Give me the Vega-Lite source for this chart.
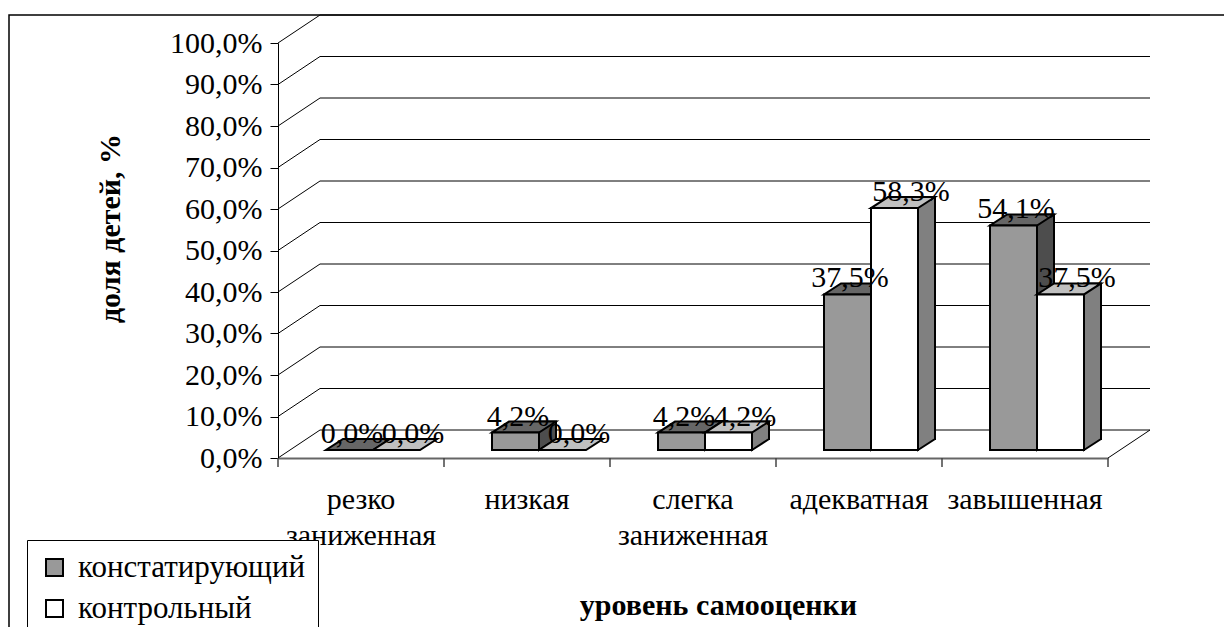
{
  "$schema": "https://vega.github.io/schema/vega-lite/v6.json",
  "autosize": {"type": "none"},
  "width": 1221,
  "height": 618,
  "padding": {"left": 9, "top": 15, "right": -6, "bottom": -6},
  "background": "white",
  "config": {
    "font": "Liberation Serif",
    "view": {"stroke": "black", "strokeWidth": 1.5},
    "locale": {"number": {"decimal": ",", "thousands": "\u00a0", "grouping": [3], "currency": ["", " ₽"]}}
  },
  "datasets": {
    "main": [
      {"category": "резко заниженная", "series": "констатирующий", "v": 0.0},
      {"category": "резко заниженная", "series": "контрольный", "v": 0.0},
      {"category": "низкая", "series": "констатирующий", "v": 0.042},
      {"category": "низкая", "series": "контрольный", "v": 0.0},
      {"category": "слегка заниженная", "series": "констатирующий", "v": 0.042},
      {"category": "слегка заниженная", "series": "контрольный", "v": 0.042},
      {"category": "адекватная", "series": "констатирующий", "v": 0.375},
      {"category": "адекватная", "series": "контрольный", "v": 0.583},
      {"category": "завышенная", "series": "констатирующий", "v": 0.541},
      {"category": "завышенная", "series": "контрольный", "v": 0.375}
    ],
    "grid": [
      {"v": 0.0}, {"v": 0.1}, {"v": 0.2}, {"v": 0.3}, {"v": 0.4}, {"v": 0.5},
      {"v": 0.6}, {"v": 0.7}, {"v": 0.8}, {"v": 0.9}, {"v": 1.0}
    ]
  },
  "layer": [
    {
      "data": {"name": "main"},
      "transform": [{"filter": "datum.series === 'констатирующий'"}],
      "mark": {"type": "bar", "width": 47, "xOffset": -11.5, "yOffset": -8, "y2Offset": -8, "stroke": "black", "strokeWidth": 2, "opacity": 0},
      "encoding": {
        "x": {
          "field": "category", "type": "nominal", "sort": null,
          "scale": {"type": "band", "domain": ["резко заниженная", "низкая", "слегка заниженная", "адекватная", "завышенная"], "range": [269, 1099], "paddingInner": 0, "paddingOuter": 0},
          "axis": {
            "title": "уровень самооценки", "orient": "bottom", "offset": -175,
            "ticks": false, "domainColor": "#666666", "domainWidth": 2,
            "labelExpr": "split(datum.label, ' ')", "labelFontSize": 30, "labelColor": "black", "labelFont": "Liberation Serif",
            "labelAngle": 0, "labelBaseline": "alphabetic", "labelPadding": 50, "labelLineHeight": 36, "labelLimit": 300,
            "titleFontSize": 30, "titleFontWeight": "bold", "titleColor": "black", "titleFont": "Liberation Serif",
            "titleX": 709, "titleY": 156, "titleAlign": "center", "titleBaseline": "alphabetic", "titleAnchor": null
          }
        },
        "y": {
          "field": "v", "type": "quantitative",
          "scale": {"domain": [0, 1], "range": [443, 28], "nice": false, "zero": true},
          "axis": {
            "title": "доля детей, %", "orient": "left", "offset": -269, "grid": false,
            "values": [0, 0.1, 0.2, 0.3, 0.4, 0.5, 0.6, 0.7, 0.8, 0.9, 1.0], "format": ".1%",
            "tickSize": 8, "tickColor": "black", "tickWidth": 1, "domainColor": "black", "domainWidth": 1,
            "labelFontSize": 30, "labelColor": "black", "labelFont": "Liberation Serif", "labelPadding": 8,
            "titleFontSize": 30, "titleFontWeight": "bold", "titleColor": "black", "titleFont": "Liberation Serif",
            "titleX": -168, "titleY": 213, "titleAngle": 270, "titleAlign": "center", "titleBaseline": "middle", "titleAnchor": null
          }
        },
        "y2": {"datum": 0}
      }
    },
    {
      "data": {"name": "grid"},
      "mark": {"type": "rule", "color": "black", "strokeWidth": 1, "xOffset": 42, "x2Offset": 42, "yOffset": -28},
      "encoding": {
        "x": {"datum": "резко заниженная", "type": "nominal", "bandPosition": 0},
        "x2": {"datum": "завышенная", "bandPosition": 1},
        "y": {"field": "v", "type": "quantitative"}
      }
    },
    {
      "data": {"name": "grid"},
      "mark": {"type": "rule", "color": "black", "strokeWidth": 1, "x2Offset": 42, "y2Offset": -28},
      "encoding": {
        "x": {"datum": "резко заниженная", "type": "nominal", "bandPosition": 0},
        "x2": {"datum": "резко заниженная", "bandPosition": 0},
        "y": {"field": "v", "type": "quantitative"},
        "y2": {"field": "v"}
      }
    },
    {
      "data": {"name": "grid"},
      "transform": [{"filter": "datum.v === 0"}],
      "mark": {"type": "rule", "color": "black", "strokeWidth": 1, "x2Offset": 42, "y2Offset": -28},
      "encoding": {
        "x": {"datum": "завышенная", "type": "nominal", "bandPosition": 1},
        "x2": {"datum": "завышенная", "bandPosition": 1},
        "y": {"field": "v", "type": "quantitative"},
        "y2": {"field": "v"}
      }
    },
    {
      "data": {"name": "main"},
      "transform": [{"filter": "datum.series === 'констатирующий'"}],
      "mark": {"type": "rule", "color": "#444444", "strokeWidth": 1.5, "y2Offset": 9},
      "encoding": {
        "x": {"field": "category", "type": "nominal", "bandPosition": 0},
        "y": {"datum": 0, "type": "quantitative"},
        "y2": {"datum": 0}
      }
    },
    {
      "data": {"name": "grid"},
      "transform": [{"filter": "datum.v === 0"}],
      "mark": {"type": "rule", "color": "#444444", "strokeWidth": 1.5, "y2Offset": 9},
      "encoding": {
        "x": {"datum": "завышенная", "type": "nominal", "bandPosition": 1},
        "y": {"field": "v", "type": "quantitative"},
        "y2": {"field": "v"}
      }
    },
    {
      "data": {"name": "main"},
      "transform": [{"filter": "datum.series === 'констатирующий' && datum.v > 0"}],
      "mark": {"type": "bar", "width": 17, "xOffset": 20.5, "yOffset": -19, "y2Offset": -19, "fill": "#4d4d4d", "stroke": "black", "strokeWidth": 2},
      "encoding": {
        "x": {"field": "category", "type": "nominal"},
        "y": {"field": "v", "type": "quantitative"},
        "y2": {"datum": 0}
      }
    },
    {
      "data": {"name": "main"},
      "transform": [{"filter": "datum.series === 'констатирующий' && datum.v > 0"}],
      "mark": {"type": "point", "shape": "M0,-13L0,0L17,-11L17,-13", "size": 4, "filled": true, "opacity": 1, "fill": "#4d4d4d", "stroke": "black", "strokeWidth": 2, "xOffset": 12, "yOffset": -8},
      "encoding": {
        "x": {"field": "category", "type": "nominal"},
        "y": {"datum": 0, "type": "quantitative"}
      }
    },
    {
      "data": {"name": "main"},
      "transform": [{"filter": "datum.series === 'констатирующий'"}],
      "mark": {"type": "point", "shape": "M0,0L47,0L64,-11L17,-11Z", "size": 4, "filled": true, "opacity": 1, "fill": "#666666", "stroke": "black", "strokeWidth": 2, "xOffset": -35, "yOffset": -8},
      "encoding": {
        "x": {"field": "category", "type": "nominal"},
        "y": {"field": "v", "type": "quantitative"}
      }
    },
    {
      "data": {"name": "main"},
      "transform": [{"filter": "datum.series === 'констатирующий'"}],
      "mark": {"type": "bar", "width": 47, "xOffset": -11.5, "yOffset": -8, "y2Offset": -8, "stroke": "black", "strokeWidth": 2},
      "encoding": {
        "x": {"field": "category", "type": "nominal"},
        "y": {"field": "v", "type": "quantitative"},
        "y2": {"datum": 0},
        "fill": {
          "field": "series", "type": "nominal",
          "scale": {"domain": ["констатирующий", "контрольный"], "range": ["#999999", "#ffffff"]},
          "legend": {
            "orient": "none", "legendX": 18, "legendY": 525, "title": null,
            "strokeColor": "black", "fillColor": "white", "padding": 12,
            "labelFont": "Liberation Serif", "labelFontSize": 31, "labelColor": "black", "labelLimit": 400,
            "symbolType": "square", "symbolSize": 289, "symbolStrokeColor": "black", "symbolStrokeWidth": 2,
            "rowPadding": 9, "labelOffset": 8
          }
        }
      }
    },
    {
      "data": {"name": "main"},
      "transform": [{"filter": "datum.series === 'контрольный' && datum.v > 0"}],
      "mark": {"type": "bar", "width": 17, "xOffset": 67.5, "yOffset": -19, "y2Offset": -19, "fill": "#808080", "stroke": "black", "strokeWidth": 2},
      "encoding": {
        "x": {"field": "category", "type": "nominal"},
        "y": {"field": "v", "type": "quantitative"},
        "y2": {"datum": 0}
      }
    },
    {
      "data": {"name": "main"},
      "transform": [{"filter": "datum.series === 'контрольный' && datum.v > 0"}],
      "mark": {"type": "point", "shape": "M0,-13L0,0L17,-11L17,-13", "size": 4, "filled": true, "opacity": 1, "fill": "#808080", "stroke": "black", "strokeWidth": 2, "xOffset": 59, "yOffset": -8},
      "encoding": {
        "x": {"field": "category", "type": "nominal"},
        "y": {"datum": 0, "type": "quantitative"}
      }
    },
    {
      "data": {"name": "main"},
      "transform": [{"filter": "datum.series === 'контрольный'"}],
      "mark": {"type": "point", "shape": "M0,0L47,0L64,-11L17,-11Z", "size": 4, "filled": true, "opacity": 1, "fill": "#c0c0c0", "stroke": "black", "strokeWidth": 2, "xOffset": 12, "yOffset": -8},
      "encoding": {
        "x": {"field": "category", "type": "nominal"},
        "y": {"field": "v", "type": "quantitative"}
      }
    },
    {
      "data": {"name": "main"},
      "transform": [{"filter": "datum.series === 'контрольный'"}],
      "mark": {"type": "bar", "width": 47, "xOffset": 35.5, "yOffset": -8, "y2Offset": -8, "stroke": "black", "strokeWidth": 2},
      "encoding": {
        "x": {"field": "category", "type": "nominal"},
        "y": {"field": "v", "type": "quantitative"},
        "y2": {"datum": 0},
        "fill": {"field": "series", "type": "nominal"}
      }
    },
    {
      "data": {"name": "main"},
      "transform": [{"filter": "datum.series === 'констатирующий'"}],
      "mark": {"type": "text", "font": "Liberation Serif", "fontSize": 30, "color": "black", "align": "center", "baseline": "alphabetic", "xOffset": -9, "yOffset": -15},
      "encoding": {
        "x": {"field": "category", "type": "nominal"},
        "y": {"field": "v", "type": "quantitative"},
        "text": {"field": "v", "type": "quantitative", "format": ".1%"}
      }
    },
    {
      "data": {"name": "main"},
      "transform": [{"filter": "datum.series === 'контрольный'"}],
      "mark": {"type": "text", "font": "Liberation Serif", "fontSize": 30, "color": "black", "align": "center", "baseline": "alphabetic", "xOffset": 52, "yOffset": -15},
      "encoding": {
        "x": {"field": "category", "type": "nominal"},
        "y": {"field": "v", "type": "quantitative"},
        "text": {"field": "v", "type": "quantitative", "format": ".1%"}
      }
    }
  ]
}
